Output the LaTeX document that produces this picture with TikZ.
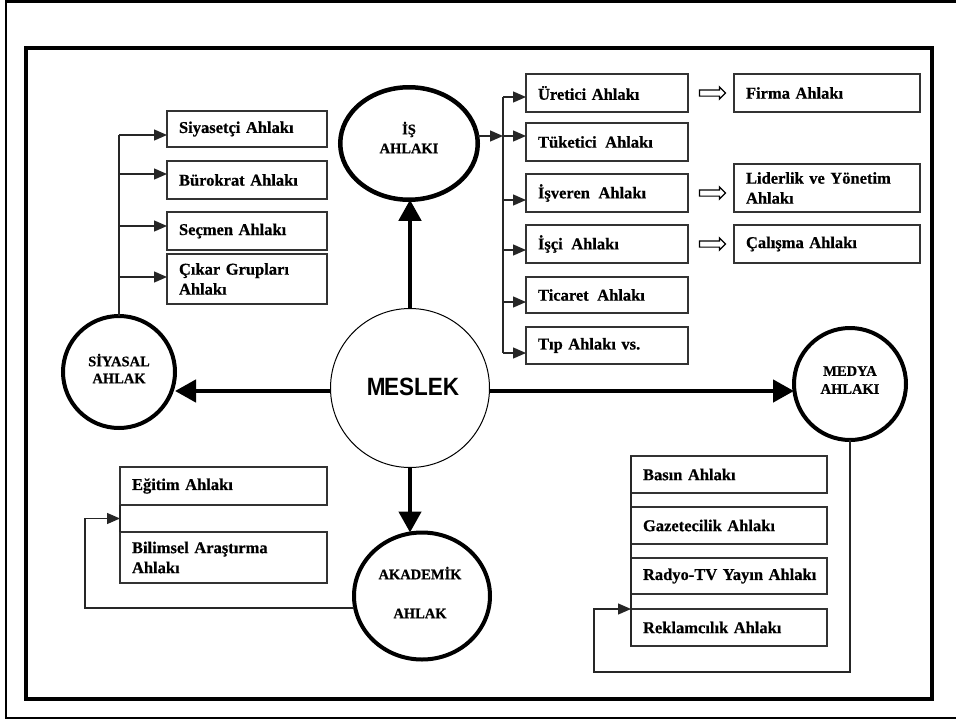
\documentclass[tikz,border=0pt]{standalone}
\usepackage{fontspec}
\setmainfont{Liberation Serif}[BoldFeatures={FakeBold=0.6}]
\newfontfamily\sansbold{Liberation Sans}
\usetikzlibrary{arrows.meta,shapes.geometric,shapes.arrows,calc}
\begin{document}
\begin{tikzpicture}[x=1pt,y=-1pt,
  bx/.style={draw=black!80, line width=1.3pt, anchor=north west, inner xsep=12pt, inner ysep=0pt,
    align=left, outer sep=0pt, font=\bfseries\fontsize{16.5}{20}\selectfont},
  ring/.style={draw=black, ellipse, inner sep=0pt, outer sep=0pt},
  ctext/.style={align=center, inner sep=0pt, font=\bfseries\fontsize{14.5}{18}\selectfont},
  thinln/.style={draw=black!85, line width=1.3pt},
  tarr/.style={thinln, -{Triangle[length=13pt,width=11pt]}},
  big/.style={line width=4.5pt, -{Triangle[length=21pt,width=22pt]}},
  darr/.style={draw=black, line width=1.2pt, single arrow, minimum height=26pt, minimum width=12pt,
    single arrow head extend=3pt, inner sep=0pt, text height=5pt, text depth=0pt, text width=0pt}
]
\useasboundingbox (0,0) rectangle (956,720);
\fill[white] (0,0) rectangle (956,720);
% frames
\draw[line width=2.5pt] (6,1.5) rectangle (970,718);
\draw[line width=4pt] (26,48) rectangle (932,698.5);

% circles
\node[ring, line width=1pt, minimum width=159pt, minimum height=159pt] (mes) at (410,388) {};
\node[inner sep=0pt, font=\sansbold\bfseries\fontsize{25}{25}\selectfont] (mes-t) at (413,387) {\scalebox{0.9}[1]{M\kern-1.5ptESLEK}};
\node[ring, line width=4.5pt, minimum width=137.5pt, minimum height=112.5pt] (is) at (409,143.5) {};
\node[ctext, font=\bfseries\fontsize{14.5}{19}\selectfont] (is-t) at (409,137.5) {İŞ\\AHLAKI};
\node[ring, line width=4pt, minimum width=112pt, minimum height=112pt] (siy) at (119,372) {};
\node[ctext, font=\bfseries\fontsize{14.5}{17}\selectfont] (siy-t) at (119,368.5) {SİYASAL\\AHLAK};
\node[ring, line width=4pt, minimum width=112pt, minimum height=112pt] (med) at (850,384) {};
\node[ctext] (med-t) at (850,380) {MEDYA\\AHLAKI};
\node[ring, line width=4pt, minimum width=136pt, minimum height=127pt] (aka) at (422,596) {};
\node[ctext] (aka-t) at (420,592.5) {AKADEMİK\\[21pt]AHLAK};

% siyasal boxes
\node[bx, text width=136pt, minimum height=36pt] (siyasetci) at (167,111) {Siyasetçi Ahlakı};
\node[bx, text width=136pt, minimum height=38pt] (burokrat) at (167,161) {Bürokrat Ahlakı};
\node[bx, text width=136pt, minimum height=38pt] (secmen) at (167,212) {Seçmen Ahlakı};
\node[bx, text width=136pt, minimum height=50pt] (cikar) at (167,254) {Çıkar Grupları\\Ahlakı};

% is boxes
\node[bx, text width=138pt, minimum height=38pt] (uretici) at (526,74) {Üretici Ahlakı};
\node[bx, text width=138pt, minimum height=38pt] (tuketici) at (526,123) {Tüketici\hspace{3pt} Ahlakı};
\node[bx, text width=138pt, minimum height=38pt] (isveren) at (526,174) {İşveren\hspace{3pt} Ahlakı};
\node[bx, text width=138pt, minimum height=38pt] (isci) at (526,225) {İşçi\hspace{3pt} Ahlakı};
\node[bx, text width=138pt, minimum height=36pt] (ticaret) at (526,277) {Ticaret\hspace{3pt} Ahlakı};
\node[bx, text width=138pt, minimum height=37pt] (tip) at (526,327) {Tıp Ahlakı vs.};

\node[bx, text width=162pt, minimum height=38pt] (firma) at (734,74) {Firma Ahlakı};
\node[bx, text width=162pt, minimum height=48pt] (lider) at (734,164) {Liderlik ve Yönetim\\Ahlakı};
\node[bx, text width=162pt, minimum height=38pt] (calisma) at (734,225) {Çalışma Ahlakı};

% akademik boxes
\node[bx, text width=183pt, minimum height=38pt] (egitim) at (120,467) {Eğitim Ahlakı};
\node[bx, text width=183pt, minimum height=51pt] (bilimsel) at (120,532) {Bilimsel Araştırma\\Ahlakı};

% medya boxes
\node[bx, text width=172pt, minimum height=37pt] (basin) at (631,456) {Basın Ahlakı};
\node[bx, text width=172pt, minimum height=37pt] (gazete) at (631,507) {Gazetecilik Ahlakı};
\node[bx, text width=172pt, minimum height=36pt] (radyo) at (631,558) {\mbox{Radyo-TV Yayın Ahlakı}};
\node[bx, text width=172pt, minimum height=37pt] (reklam) at (631,609) {Reklamcılık Ahlakı};

% double arrows
\node[darr] (d1) at ($(uretici.east)!0.5!(firma.west)$) {};
\node[darr] (d2) at ($(isveren.east)!0.5!(isveren.east -| lider.west)$) {};
\node[darr] (d3) at ($(isci.east)!0.5!(isci.east -| calisma.west)$) {};

% big arrows from MESLEK
\coordinate (hl) at (0,391);
\draw[big] (mes.north) -- (mes.north |- is.south);
\draw[big] (mes.west |- hl) -- (siy.east |- hl);
\draw[big] (mes.east |- hl) -- (med.west |- hl);
\draw[big] (mes.south) -- (mes.south |- aka.north);

% siyasal branches
\coordinate (s1) at (119,135);
\coordinate (s2) at (119,174);
\coordinate (s3) at (119,226);
\coordinate (s4) at (119,277);
\draw[thinln] (siy.north) -- (s1);
\draw[tarr] (s1) -- (s1 -| siyasetci.west);
\draw[tarr] (s2) -- (s2 -| burokrat.west);
\draw[tarr] (s3) -- (s3 -| secmen.west);
\draw[tarr] (s4) -- (s4 -| cikar.west);

% is branches
\coordinate (i1) at (503,97);
\coordinate (i2) at (503,136);
\coordinate (i3) at (503,200);
\coordinate (i4) at (503,250);
\coordinate (i5) at (503,302);
\coordinate (i6) at (503,353);
\draw[thinln] (i1) -- (i6);
\draw[tarr] (is.east |- i2) -- (i2);
\draw[tarr] (i1) -- (i1 -| uretici.west);
\draw[tarr] (i2) -- (i2 -| tuketici.west);
\draw[tarr] (i3) -- (i3 -| isveren.west);
\draw[tarr] (i4) -- (i4 -| isci.west);
\draw[tarr] (i5) -- (i5 -| ticaret.west);
\draw[tarr] (i6) -- (i6 -| tip.west);

% akademik
\coordinate (a-in) at ($(egitim.south west)!0.5!(bilimsel.north west)$);
\coordinate (ak-c) at (85,608);
\draw[thinln] (egitim.south west) -- (bilimsel.north west);
\draw[tarr] (aka.west |- ak-c) -- (ak-c) |- (a-in);

% medya
\coordinate (m-c) at (594,672);
\draw[thinln] (basin.north west) -- (reklam.south west);
\draw[tarr] (med.south) -- (med.south |- m-c) -- (m-c) |- (reklam.north west);
\end{tikzpicture}
\end{document}
